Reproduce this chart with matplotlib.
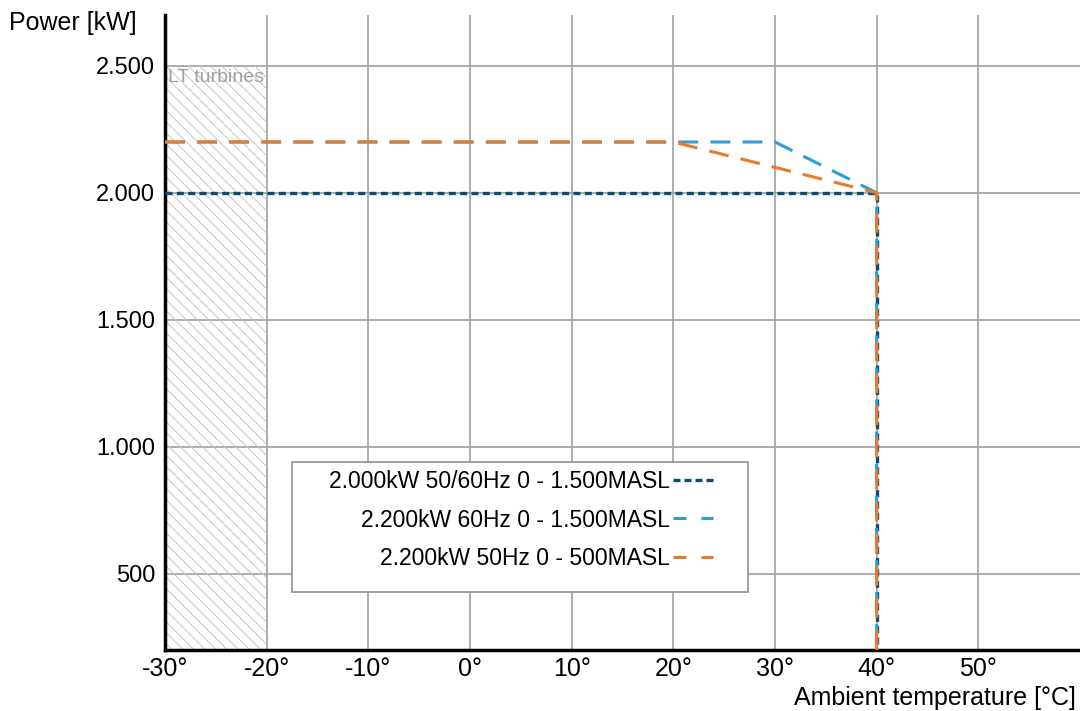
import matplotlib
matplotlib.use("Agg")
import matplotlib.pyplot as plt
from matplotlib.lines import Line2D
from matplotlib.patches import Rectangle

plt.rcParams['font.family'] = ['Liberation Sans', 'DejaVu Sans']

# data
temp_2000 = [-30, 40, 40]
pow_2000 = [2000, 2000, 200]
temp_2200_60 = [-30, 30, 40, 40]
pow_2200_60 = [2200, 2200, 2000, 200]
temp_2200_50 = [-30, 20, 40, 40]
pow_2200_50 = [2200, 2200, 2000, 200]
labels = ['2.000kW 50/60Hz 0 - 1.500MASL',
          '2.200kW 60Hz 0 - 1.500MASL',
          '2.200kW 50Hz 0 - 500MASL']
x_ticks = [-30, -20, -10, 0, 10, 20, 30, 40, 50]
y_ticks = [500, 1000, 1500, 2000, 2500]
lt_range = [-30, -20]

c_dark = '#0d4a75'
c_light = '#2a9fd6'
c_orange = '#ea7a2a'

fig = plt.figure(figsize=(10.8, 7.11), dpi=100)
ax = fig.add_axes([0.1528, 0.0858, 0.8472, 0.8931])

# hatched LT turbines band
plt.rcParams['hatch.color'] = '#c4c4c4'
plt.rcParams['hatch.linewidth'] = 0.7
ax.fill_between(lt_range, 200, 2500, facecolor='none', edgecolor='#c4c4c4',
                hatch='\\\\\\', linewidth=0, zorder=1)
ax.text(-29.75, 2486, 'LT turbines', color='#a0a0a0', fontsize=14, va='top', ha='left')

ax.plot(temp_2000, pow_2000, color=c_dark, lw=2.4, dashes=(2.1, 1.3), zorder=3)
ax.plot(temp_2200_60, pow_2200_60, color=c_light, lw=2.2, dashes=(6.5, 4), zorder=4)
ax.plot(temp_2200_50, pow_2200_50, color=c_orange, lw=2.2, dashes=(6.5, 4), zorder=5)

ax.set_xlim(-30, 60)
ax.set_ylim(200, 2700)
ax.set_xticks(x_ticks)
ax.set_xticklabels([f'{t}°' for t in x_ticks])
ax.set_yticks(y_ticks)
ax.set_yticklabels([f'{v:,}'.replace(',', '.') for v in y_ticks])
ax.tick_params(length=0)
ax.tick_params(axis='x', pad=5, labelsize=18)
ax.tick_params(axis='y', pad=7, labelsize=17)
ax.grid(True, color='#a0a0a0', lw=1.2)
ax.set_axisbelow(True)

for s in ['top', 'right']:
    ax.spines[s].set_visible(False)
for s in ['left', 'bottom']:
    ax.spines[s].set_linewidth(2.5)
    ax.spines[s].set_color('black')

fig.text(0.008, 0.968, 'Power [kW]', fontsize=18, ha='left', va='center')
fig.text(0.996, 0.0084, 'Ambient temperature [°C]', fontsize=18, ha='right', va='baseline')

# legend: frame drawn separately, labels on the left of the handles
ax.add_patch(Rectangle((0.1388, 0.092), 0.498, 0.204, transform=ax.transAxes,
                       facecolor='white', edgecolor='#909090', lw=1.2, zorder=6))
h1 = Line2D([], [], color=c_dark, lw=2.4, dashes=(2.1, 1.2))
h2 = Line2D([], [], color=c_light, lw=2.2, dashes=(4.25, 4.9))
h3 = Line2D([], [], color=c_orange, lw=2.2, dashes=(4.25, 4.9))
leg = ax.legend([h1, h2, h3], labels, markerfirst=False, fontsize=16.5,
                loc='center right', bbox_to_anchor=(0.599, 0.2047),
                frameon=False, borderpad=0, borderaxespad=0, handlelength=1.75,
                handletextpad=0.15, labelspacing=0.66)
leg.set_zorder(7)
for t in leg.get_texts():
    t.set_ha('right')

fig.savefig('out.png', dpi=100)
